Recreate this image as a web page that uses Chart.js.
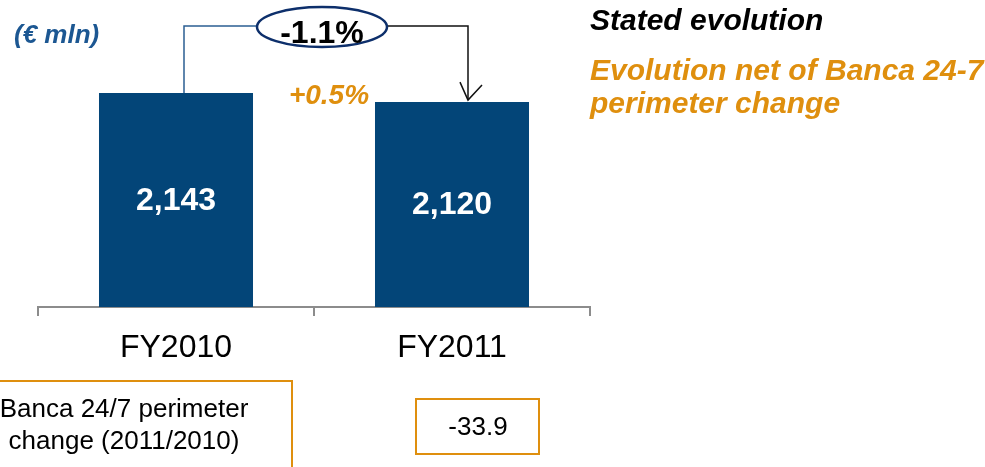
<!DOCTYPE html>
<html>
<head>
<meta charset="utf-8">
<script src="https://cdn.jsdelivr.net/npm/chart.js@4.4.1/dist/chart.umd.min.js"></script>
<style>
html,body{margin:0;padding:0;background:#fff;}
#wrap{position:relative;width:985px;height:467px;}
</style>
</head>
<body>
<div id="wrap"><canvas id="c" width="985" height="467"></canvas></div>
<script>
// ---- data ----
const categories = ['FY2010', 'FY2011'];
const values = [2143, 2120];
const valueLabels = ['2,143', '2,120'];
const statedChange = '-1.1%';
const netChange = '+0.5%';
const unitLabel = '(\u20AC mln)';
const legendStated = 'Stated evolution';
const legendNet = ['Evolution net of Banca 24-7', 'perimeter change'];
const perimeterLabel = ['Banca 24/7 perimeter', 'change (2011/2010)'];
const perimeterValue = '-33.9';

// ---- styles ----
const NAVY = '#034578';
const ORANGE = '#df8f0e';
const GREY = '#8c8c8c';
const FONT = '"Liberation Sans", Arial, sans-serif';

const overlay = {
  id: 'overlay',
  afterDraw(chart) {
    const ctx = chart.ctx;
    const meta = chart.getDatasetMeta(0);
    const ys = chart.scales.y;
    const bottom = chart.chartArea.bottom;
    const bx = meta.data.map(b => b.x);
    const by = values.map(v => ys.getPixelForValue(v));
    ctx.save();

    // value labels inside bars
    ctx.fillStyle = '#ffffff';
    ctx.font = 'bold 32px ' + FONT;
    ctx.textAlign = 'center';
    ctx.textBaseline = 'middle';
    values.forEach((v, i) => {
      ctx.fillText(valueLabels[i], bx[i], (by[i] + bottom) / 2 + 1);
    });

    // connector
    const lineY = 26;
    const cx = 322, cy = 27, rx = 65, ry = 20;
    const leftX = bx[0] + 8;
    const rightX = bx[1] + 16;
    ctx.lineWidth = 1.5;
    ctx.strokeStyle = '#2b5f93';
    ctx.beginPath();
    ctx.moveTo(leftX, by[0]);
    ctx.lineTo(leftX, lineY);
    ctx.lineTo(cx - rx, lineY);
    ctx.stroke();
    ctx.strokeStyle = '#111';
    ctx.beginPath();
    ctx.moveTo(cx + rx, lineY);
    ctx.lineTo(rightX, lineY);
    ctx.lineTo(rightX, by[1] - 2);
    ctx.stroke();
    // open arrow head
    ctx.beginPath();
    ctx.moveTo(rightX - 8, by[1] - 20);
    ctx.lineTo(rightX, by[1] - 2);
    ctx.lineTo(rightX + 14, by[1] - 17);
    ctx.stroke();

    // ellipse
    ctx.beginPath();
    ctx.ellipse(cx, cy, rx, ry, 0, 0, Math.PI * 2);
    ctx.fillStyle = '#fff';
    ctx.fill();
    ctx.lineWidth = 2.5;
    ctx.strokeStyle = '#0d2f6b';
    ctx.stroke();
    ctx.fillStyle = '#000';
    ctx.font = 'bold 32px ' + FONT;
    ctx.fillText(statedChange, cx, cy + 7);

    // net change
    ctx.fillStyle = ORANGE;
    ctx.font = 'italic bold 28px ' + FONT;
    ctx.fillText(netChange, 329, 96);

    // unit
    ctx.fillStyle = '#1c5792';
    ctx.font = 'italic bold 26px ' + FONT;
    ctx.textAlign = 'left';
    ctx.fillText(unitLabel, 14, 36);

    // legend texts
    ctx.textBaseline = 'alphabetic';
    ctx.font = 'italic bold 30px ' + FONT;
    ctx.fillStyle = '#000';
    ctx.fillText(legendStated, 590, 30);
    ctx.fillStyle = ORANGE;
    ctx.fillText(legendNet[0], 590, 80);
    ctx.fillText(legendNet[1], 590, 113);

    // bottom boxes
    ctx.strokeStyle = ORANGE;
    ctx.lineWidth = 2;
    ctx.strokeRect(-44, 381, 336, 100);
    ctx.strokeRect(416, 399, 123, 55);
    ctx.fillStyle = '#000';
    ctx.font = '26px ' + FONT;
    ctx.textAlign = 'center';
    ctx.textBaseline = 'middle';
    ctx.fillText(perimeterLabel[0], 124, 410);
    ctx.fillText(perimeterLabel[1], 124, 442);
    ctx.fillText(perimeterValue, 478, 428);

    ctx.restore();
  }
};

new Chart(document.getElementById('c'), {
  type: 'bar',
  data: {
    labels: categories,
    datasets: [{
      data: values,
      backgroundColor: NAVY,
      borderWidth: 0,
      barPercentage: 0.558,
      categoryPercentage: 1
    }]
  },
  options: {
    responsive: false,
    animation: false,
    events: [],
    layout: { padding: { left: 38, right: 395, top: 20, bottom: 86.6 } },
    plugins: { legend: { display: false }, tooltip: { enabled: false }, title: { display: false } },
    scales: {
      x: {
        offset: true,
        grid: { display: true, drawOnChartArea: false, drawTicks: true, tickLength: 9, color: GREY, lineWidth: 2, offset: true },
        border: { display: true, color: GREY, width: 2 },
        ticks: { color: '#000', font: { family: FONT, size: 32 }, padding: 13 }
      },
      y: {
        display: false,
        min: 1596,
        max: 2330
      }
    }
  },
  plugins: [overlay]
});
</script>
</body>
</html>
